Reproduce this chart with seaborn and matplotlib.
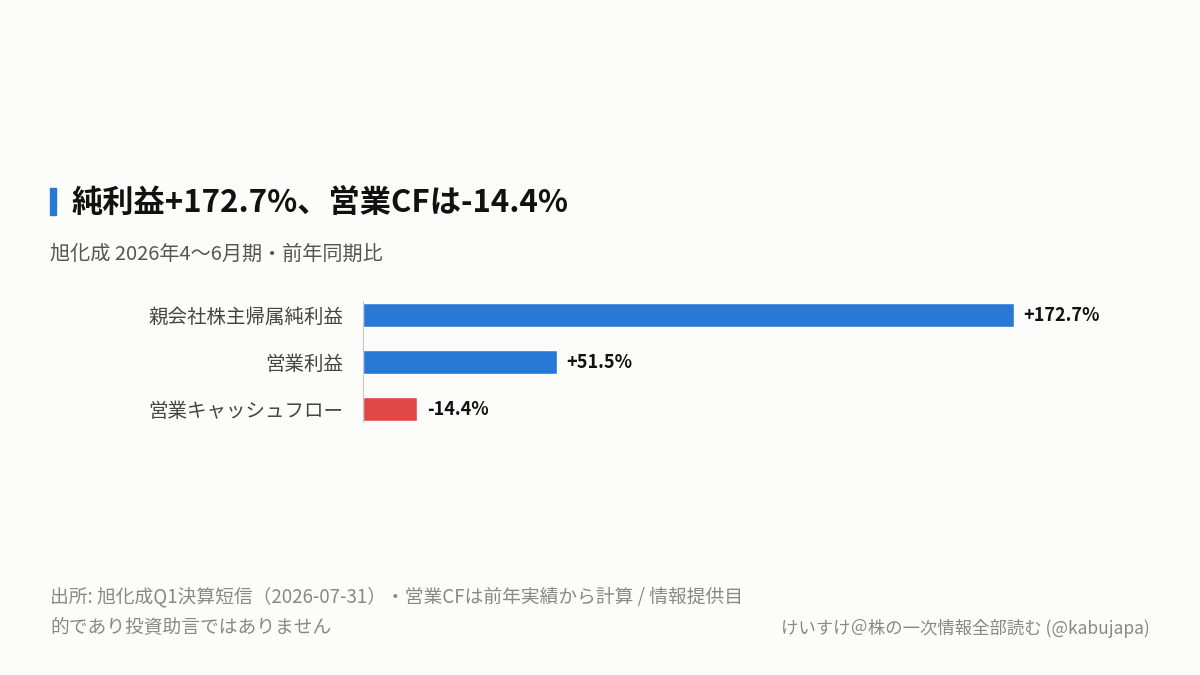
import matplotlib
matplotlib.use("Agg")
import matplotlib.pyplot as plt
import seaborn as sns
import pandas as pd

categories = ["親会社株主帰属純利益", "営業利益", "営業キャッシュフロー"]
values = [172.7, 51.5, -14.4]
labels = ["+172.7%", "+51.5%", "-14.4%"]
colors = ["#2878d6", "#2878d6", "#e04848"]

sns.set_theme(style="white")
plt.rcParams['font.family'] = ['Noto Sans CJK JP', 'DejaVu Sans']

bg = "#fcfcfa"
fig = plt.figure(figsize=(12, 6.75), dpi=100, facecolor=bg)
ax = fig.add_axes([0.3025, 0.359, 0.628, 0.209], facecolor=bg)

df = pd.DataFrame({"cat": categories, "abs": [abs(v) for v in values]})
sns.barplot(data=df, x="abs", y="cat", hue="cat", palette=colors, legend=False,
            width=0.51, ax=ax, orient="h", saturation=1)
ax.set_xlim(0, 200)
ax.set_ylim(2.5, -0.5)
for i, (v, l) in enumerate(zip(df["abs"], labels)):
    ax.text(v + 2.5, i, l, va="center", ha="left", fontsize=13, fontweight="bold", color="#111")
for s in ax.spines.values():
    s.set_visible(False)
ax.vlines(0, -0.3, 2.3, color="#bbbbbb", lw=1.2)
ax.set_xticks([])
ax.set_xlabel("")
ax.set_ylabel("")
ax.tick_params(axis="y", length=0, pad=14, labelsize=14, labelcolor="#444444")

fig.patches.append(matplotlib.patches.Rectangle((50/1200, 1-215/675), 6/1200, 27/675,
                   transform=fig.transFigure, color="#2878d6", zorder=5))
fig.text(72/1200, 1-203/675, "純利益+172.7%、営業CFは-14.4%", fontsize=22.5, fontweight="bold",
         va="center", ha="left", color="#111")
fig.text(50/1200, 1-254/675, "旭化成 2026年4〜6月期・前年同期比", fontsize=14.5, va="center",
         ha="left", color="#555555")
fig.text(50/1200, 1-597/675, "出所: 旭化成Q1決算短信（2026-07-31）・営業CFは前年実績から計算 / 情報提供目",
         fontsize=13.5, va="center", ha="left", color="#888888")
fig.text(50/1200, 1-627/675, "的であり投資助言ではありません", fontsize=13.5, va="center",
         ha="left", color="#888888")
fig.text(1150/1200, 1-629/675, "けいすけ＠株の一次情報全部読む (@kabujapa)", fontsize=12.5,
         va="center", ha="right", color="#888888")

fig.savefig("out.png", dpi=100, facecolor=bg)
